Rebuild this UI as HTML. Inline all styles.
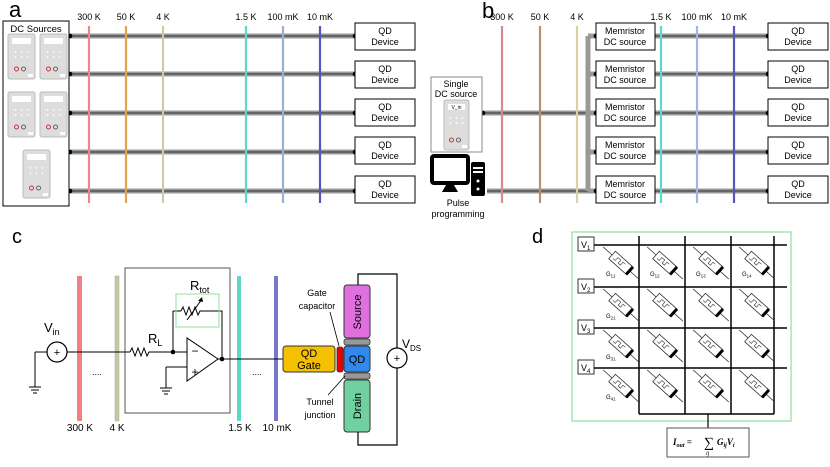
<!DOCTYPE html>
<html><head><meta charset="utf-8"><style>
body{margin:0;background:#fff;}
svg{display:block;font-family:"Liberation Sans",Arial,sans-serif;}
</style></head><body>
<svg id="s" width="830" height="467" viewBox="0 0 830 467" xmlns="http://www.w3.org/2000/svg">
<rect width="830" height="467" fill="#fff"/>
<text x="9" y="17" font-size="22">a</text>
<text x="482" y="18" font-size="22">b</text>
<text x="12" y="243" font-size="20">c</text>
<text x="532" y="243" font-size="20">d</text>
<g id="g"></g>
</svg>
<script>
var g=document.getElementById('g');var h='';
function L(x1,y1,x2,y2,c,w,ex){h+=`<line x1="${x1}" y1="${y1}" x2="${x2}" y2="${y2}" stroke="${c}" stroke-width="${w}" ${ex||''}/>`;}
function R(x,y,w,hh,f,s,sw,ex){h+=`<rect x="${x}" y="${y}" width="${w}" height="${hh}" fill="${f}" stroke="${s}" stroke-width="${sw}" ${ex||''}/>`;}
function T(x,y,t,fs,ex){h+=`<text x="${x}" y="${y}" font-size="${fs}" text-anchor="middle" ${ex||''}>${t}</text>`;}
function wire(x1,y,x2){L(x1,y,x2,y,'#999',5);L(x1,y,x2,y,'#444',1.2);}
function dot(x,y){h+=`<circle cx="${x}" cy="${y}" r="2.3" fill="#000"/>`;}
function dev(x,y,w,hh,lab){R(x,y,w,hh,'#ddd','#bbb',1,'rx="2"');R(x+4,y+4,w-8,6,'#fff','none',0);
 for(var i=0;i<3;i++)for(var j=0;j<2;j++)h+=`<circle cx="${x+w/2-6+i*6}" cy="${y+18+j*5}" r="0.9" fill="#fff"/>`;
 h+=`<circle cx="${x+w/2-5}" cy="${y+hh-10}" r="2" fill="none" stroke="#c33" stroke-width="1"/><circle cx="${x+w/2+2}" cy="${y+hh-10}" r="2" fill="none" stroke="#444" stroke-width="0.8"/>`;
 R(x+w-7,y+hh-5,5,3,'#fff','none',0);
 if(lab)h+=`<text x="${x+w/2}" y="${y+9}" font-size="5" text-anchor="middle">${lab}</text>`;}
var rows=[36,74,113,152,191];var boxY=[23,61,99,137,176];
var tc=['#e88','#e5a050','#cfc9a8','#5ed8cc','#9ab0d0','#5555bb'];
var ax=[89,126,163,246,283,320],al=['300 K','50 K','4 K','1.5 K','100 mK','10 mK'];
rows.forEach(function(y){wire(70,y,355);dot(70,y);dot(355,y);});
ax.forEach(function(x,i){L(x,26,x,203,tc[i],2.2);T(x,20,al[i],9);});
R(3,21,66,185,'#fff','#000',1);T(36,32,'DC Sources',9.5);
dev(8,34,27,45);dev(40,34,27,45);dev(8,92,27,45);dev(40,92,27,45);dev(23,150,27,48);
boxY.forEach(function(y){R(355,y,60,27,'#fff','#000',1);T(385,y+11,'QD',9);T(385,y+22,'Device',9);});
var bx=[502,540,577,661,697,734],bc=['#d88','#b89070','#d8d0a8','#5ed8cc','#9ab8e0','#5555bb'];
wire(483,113,596);dot(483,113);wire(487,191,596);
h+=`<line x1="588" y1="36" x2="588" y2="191" stroke="#999" stroke-width="5"/>`;
rows.forEach(function(y){L(588,y,596,y,'#999',5);dot(596,y);wire(655,y,768);dot(768,y);});
bx.forEach(function(x,i){L(x,26,x,203,bc[i],2.2);T(x,20,al[i],9);});
boxY.forEach(function(y){R(596,y,59,27,'#fff','#000',1);T(625,y+11,'Memristor',9);T(625,y+22,'DC source',9);
 R(768,y,60,27,'#fff','#000',1);T(798,y+11,'QD',9);T(798,y+22,'Device',9);});
R(431,77,51,75,'#fff','#888',1);T(456,87,'Single',9);T(456,97,'DC source',9);dev(444,100,25,50,'V_in');
R(432,156,36,27,'#fff','#000',4,'rx="2"');h+=`<polygon points="446,185 454,185 458,192 442,192" fill="#000"/>`;
R(471,162,14,34,'#000','none',0,'rx="2"');R(473,167,10,2,'#fff','none',0);R(473,171,10,2,'#fff','none',0);
h+=`<circle cx="478" cy="181" r="1.5" fill="#fff"/><circle cx="478" cy="189" r="1.5" fill="#fff"/>`;
T(458,206,'Pulse',9);T(458,217,'programming',9);
R(77,276,5,145,'#f28080','none',0);R(115,276,4,145,'#c8c8a0','#999',0.4);
R(237,276,4,145,'#5ed8cc','none',0);R(274,276,4,145,'#7777cc','none',0);
R(125,268,105,145,'none','#555',1);
T(80,431,'300 K',10);T(117,431,'4 K',10);T(240,431,'1.5 K',10);T(277,431,'10 mK',10);
L(35,352,130,352,'#000',1);L(35,352,35,387,'#000',1);
h+=`<path d="M29,387h12M31,390h8M33,393h4" stroke="#000" stroke-width="1"/>`;
h+=`<circle cx="57" cy="352" r="10" fill="#fff" stroke="#000" stroke-width="1.2"/><text x="57" y="356" font-size="11" text-anchor="middle">+</text>`;
h+=`<text x="44" y="332" font-size="13">V<tspan font-size="9" dy="3">in</tspan></text>`;
T(97,375,'....',9);T(257,375,'....',9);
h+=`<path d="M130,352 l2,-4 l3,8 l3,-8 l3,8 l3,-8 l3,8 l2,-4 H173" fill="none" stroke="#000" stroke-width="1"/>`;
h+=`<text x="148" y="343" font-size="13">R<tspan font-size="9" dy="3">L</tspan></text>`;
dot(173,352);L(173,352,187,352,'#000',1);L(173,352,173,311,'#000',1);L(173,311,181,311,'#000',1);
h+=`<path d="M181,311 l2,-4 l3,8 l3,-8 l3,8 l3,-8 l3,8 l2,-4 H222 V359" fill="none" stroke="#000" stroke-width="1"/>`;
h+=`<line x1="187" y1="320" x2="202" y2="299" stroke="#000" stroke-width="1"/><polygon points="202,297 198,301 203,302" fill="#000"/>`;
R(176,294,43,33,'none','#8ee0a0',1);
h+=`<text x="190" y="290" font-size="13">R<tspan font-size="9" dy="3">tot</tspan></text>`;
h+=`<polygon points="187,338 187,381 218,359" fill="#fff" stroke="#000" stroke-width="1"/>`;
T(195,355,'−',12);T(195,376,'+',12);
L(166,367,187,367,'#000',1);L(166,367,166,388,'#000',1);
h+=`<path d="M160,388h12M162,391h8M164,394h4" stroke="#000" stroke-width="1"/>`;
L(218,359,283,359,'#000',1);dot(222,359);
R(283,346,52,26,'#f5c000','#333',1,'rx="3"');T(309,357,'QD',11);T(309,369,'Gate',11);
R(337,347,6,25,'#e00','#333',0.8,'rx="2"');
R(344,285,26,53,'#e070e0','#333',1,'rx="3"');
h+=`<text transform="translate(361,312) rotate(-90)" font-size="11" text-anchor="middle">Source</text>`;
R(344,339,26,6,'#999','#333',0.8,'rx="2"');R(344,373,26,6,'#999','#333',0.8,'rx="2"');
R(344,346,26,26,'#3388ee','#333',1,'rx="3"');T(357,363,'QD',11);
R(344,380,26,52,'#70d0a0','#333',1,'rx="3"');
h+=`<text transform="translate(361,406) rotate(-90)" font-size="11" text-anchor="middle">Drain</text>`;
h+=`<path d="M358,285 V274 H397 V445 H358 V432" fill="none" stroke="#000" stroke-width="1.2"/>`;
h+=`<circle cx="397" cy="358" r="10" fill="#fff" stroke="#000" stroke-width="1.2"/><text x="397" y="362" font-size="11" text-anchor="middle">+</text>`;
h+=`<text x="402" y="348" font-size="12">V<tspan font-size="8" dy="3">DS</tspan></text>`;
T(317,296,'Gate',9);T(317,309,'capacitor',9);L(330,312,339,346,'#000',0.8);
T(320,405,'Tunnel',9);T(320,418,'junction',9);L(328,395,345,376,'#000',0.8);
R(572,232,219,189,'none','#8ee0a0',1.2);
var hy=[245,287,328,368],vx=[639,685,731,774];
hy.forEach(function(y,i){R(578,y-8,16,14,'#fff','#333',1);h+=`<text x="581" y="${y+3}" font-size="9">V<tspan font-size="6" dy="2">${i+1}</tspan></text>`;L(594,y,787,y,'#000',1.5);});
vx.forEach(function(x){L(x,236,x,414,'#000',1.5);});L(639,414,774,414,'#000',1.5);L(708,414,708,428,'#000',1.2);
var cx=[595,639,685,731];
hy.forEach(function(y,i){cx.forEach(function(x,j){var x0=x+8,y0=y;
 h+=`<g transform="translate(${x0+18},${y0+18}) rotate(42)"><line x1="-24" y1="0" x2="24" y2="0" stroke="#333" stroke-width="0.7"/><rect x="-12" y="-5" width="24" height="10" fill="#fff" stroke="#333" stroke-width="0.8"/><path d="M-9,2 h3 v-4 h4 v4 h3 v-4 h3" fill="none" stroke="#333" stroke-width="0.6"/><rect x="10" y="-5" width="3" height="10" fill="#000"/></g>`;
 if(j==0||i==0)h+=`<text x="${x0+3}" y="${y0+31}" font-size="6">G<tspan font-size="4.5" dy="1.5">${i+1}${j+1}</tspan></text>`;});});
R(667,428,82,29,'#fff','#555',1);
h+=`<text x="673" y="445" font-size="9" font-family="Liberation Serif" font-style="italic" font-weight="bold">I<tspan font-size="6" dy="2">out</tspan><tspan dy="-2"> = </tspan></text>`;
h+=`<text x="704" y="447" font-size="14" font-family="Liberation Serif">∑</text><text x="706" y="455" font-size="6" font-family="Liberation Serif" font-style="italic">ij</text>`;
h+=`<text x="717" y="445" font-size="9" font-family="Liberation Serif" font-style="italic" font-weight="bold">G<tspan font-size="6" dy="2">ij</tspan><tspan dy="-2">V</tspan><tspan font-size="6" dy="2">i</tspan></text>`;
g.innerHTML=h;
</script>
</body></html>
